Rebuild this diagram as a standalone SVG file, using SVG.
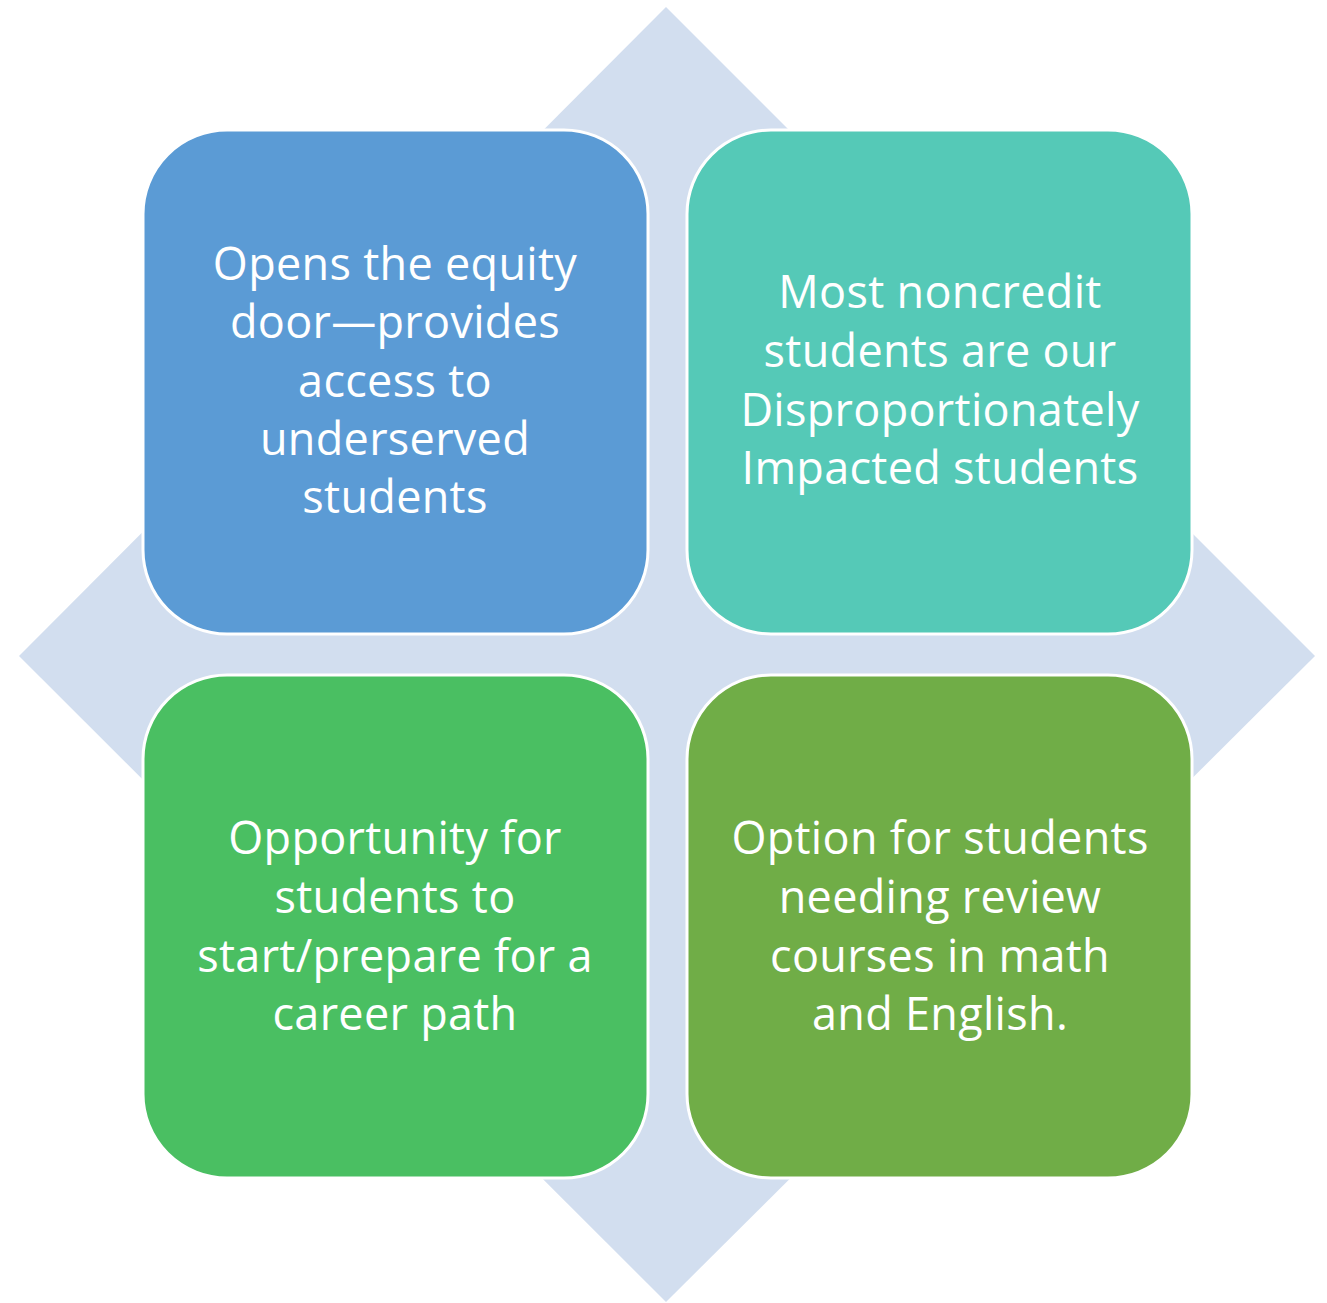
<svg xmlns="http://www.w3.org/2000/svg" width="1327" height="1303" viewBox="0 0 1327 1303">
<style>
.box{stroke:#FFFFFF;stroke-width:3}
.t{font-family:"Open Sans","Liberation Sans",sans-serif;font-size:45px;letter-spacing:0.3px;fill:#FFFFFF;text-anchor:middle}
</style>
<rect width="1327" height="1303" fill="#FFFFFF"/>
<g id="diamond"><polygon points="666,7 1315,656 666,1302 19,656" fill="#D2DEEF"/></g>
<g id="node1">
<rect class="box" x="143" y="130" width="505" height="504" rx="84" fill="#5B9BD5"/>
<text class="t"><tspan x="395" y="280">Opens the equity</tspan><tspan x="395" y="338">door—provides</tspan><tspan x="395" y="397">access to</tspan><tspan x="395" y="455">underserved</tspan><tspan x="395" y="513">students</tspan></text>
</g>
<g id="node2">
<rect class="box" x="687" y="130" width="505" height="504" rx="84" fill="#55C9B7"/>
<text class="t"><tspan x="940" y="308">Most noncredit</tspan><tspan x="940" y="367">students are our</tspan><tspan x="940" y="426">Disproportionately</tspan><tspan x="940" y="484">Impacted students</tspan></text>
</g>
<g id="node3">
<rect class="box" x="143" y="675" width="505" height="503" rx="84" fill="#4ABF62"/>
<text class="t"><tspan x="395" y="854">Opportunity for</tspan><tspan x="395" y="913">students to</tspan><tspan x="395" y="972">start/prepare for a</tspan><tspan x="395" y="1030">career path</tspan></text>
</g>
<g id="node4">
<rect class="box" x="687" y="675" width="505" height="503" rx="84" fill="#70AD47"/>
<text class="t"><tspan x="940" y="854">Option for students</tspan><tspan x="940" y="913">needing review</tspan><tspan x="940" y="972">courses in math</tspan><tspan x="940" y="1030">and English.</tspan></text>
</g>
<g id="connectors"/>
</svg>
